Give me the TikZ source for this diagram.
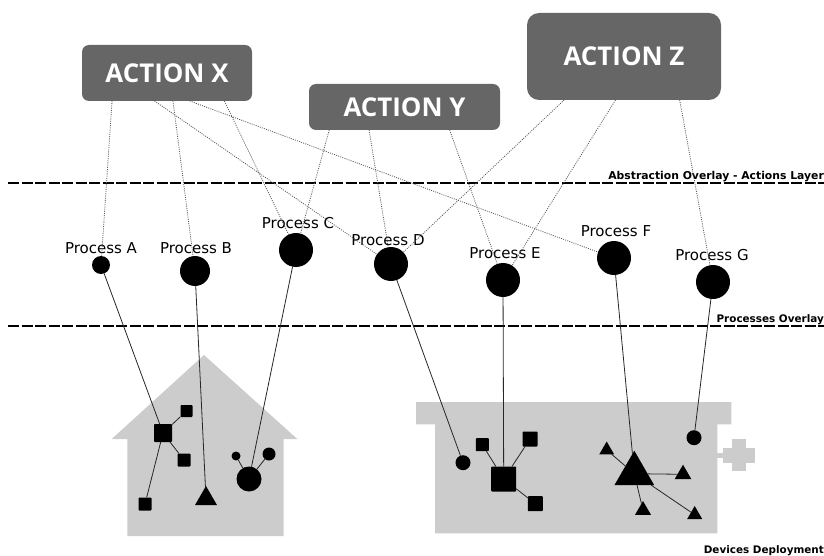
\documentclass[tikz,border=0pt]{standalone}
\usepackage{fontspec}
\setmainfont{DejaVu Sans}
\newfontfamily\actionfont{Open Sans}
\usetikzlibrary{shapes.geometric}
\definecolor{actiongray}{HTML}{666666}
\definecolor{sitegray}{HTML}{CCCCCC}
\newcommand{\actiontext}[1]{\raisebox{-1pt}{#1}}
\tikzset{
  action/.style={fill=actiongray,text=white,rounded corners=7pt,inner sep=0pt,outer sep=0pt,font=\actionfont\bfseries\fontsize{25.9}{25.9}\selectfont},
  process/.style={circle,fill=black,inner sep=0pt,outer sep=0pt},
  device/.style={rectangle,fill=black,rounded corners=0.8pt,inner sep=0pt,outer sep=0pt},
  sensor/.style={regular polygon,regular polygon sides=3,fill=black,inner sep=0pt,outer sep=0pt},
  tag/.style={font=\fontsize{15}{15}\selectfont},
  overlay/.style={font=\bfseries\fontsize{10.4}{10.4}\selectfont,anchor=base east,inner sep=0pt},
  layer/.style={line width=1.5pt,dash pattern=on 11pt off 2.5pt},
  logical/.style={dash pattern=on 1pt off 1.2pt,line width=0.8pt,black!65},
  physical/.style={line width=0.8pt,black!85},
  site/.style={fill=sitegray,draw=none}
}
\begin{document}
\begin{tikzpicture}[x=1pt,y=-1pt]
\useasboundingbox (0,0) rectangle (824,556);
% buildings
\fill [site] (204,355) -- (297.3,439) -- (283.7,439) -- (283.7,536) -- (127.3,536) -- (127.3,439) -- (111.7,439) -- cycle;
\fill [site] (416,402) -- (731.3,402) -- (731.3,424.3) -- (717.3,424.3) -- (717.3,533.3) -- (435,533.3) -- (435,424.3) -- (416,424.3) -- cycle;
\fill [site] (717.3,453) rectangle (723,457.5);
\fill [site] (731.7,439.3) rectangle (746,471);
\fill [site] (722.7,447.7) rectangle (755,462.7);
% layers
\coordinate (abs_l) at (8,183);
\coordinate (abs_r) at (824,183);
\coordinate (pro_l) at (8,326);
\coordinate (pro_r) at (824,326);
\draw [layer] (abs_l) -- (abs_r);
\draw [layer] (pro_l) -- (pro_r);
\node [overlay,font=\bfseries\fontsize{10.8}{10.8}\selectfont] (abs_t) at (824,179) {Abstraction Overlay - Actions Layer};
\node [overlay] (pro_t) at (824,322) {Processes Overlay};
\node [overlay] (dev_t) at (824,553) {Devices Deployment};
% actions
\node [action,minimum width=170pt,minimum height=56pt] (act_x) at (167,73) {\actiontext{ACTION X}};
\node [action,minimum width=191pt,minimum height=46pt] (act_y) at (404.5,107) {\actiontext{ACTION Y}};
\node [action,minimum width=194pt,minimum height=87pt,rounded corners=12pt] (act_z) at (624,56.5) {\actiontext{ACTION Z}};
% processes
\node [process,minimum size=18pt] (p_a) at (101,265) {};
\node [process,minimum size=30pt] (p_b) at (195,271) {};
\node [process,minimum size=34pt] (p_c) at (296,250) {};
\node [process,minimum size=34pt] (p_d) at (391,264) {};
\node [process,minimum size=34pt] (p_e) at (503,280) {};
\node [process,minimum size=34pt] (p_f) at (614,258) {};
\node [process,minimum size=34pt] (p_g) at (713,282) {};
\node [tag] (t_a) at (101,248) {Process A};
\node [tag] (t_b) at (196,248) {Process B};
\node [tag] (t_c) at (298,223) {Process C};
\node [tag] (t_d) at (388,240) {Process D};
\node [tag] (t_e) at (505,253) {Process E};
\node [tag] (t_f) at (616,231) {Process F};
\node [tag] (t_g) at (712,255) {Process G};
% house devices
\node [device,minimum size=18pt] (h_m) at (163,433) {};
\node [device,minimum size=12pt] (h_1) at (186.5,411) {};
\node [device,minimum size=13pt] (h_2) at (184,460) {};
\node [device,minimum size=13pt] (h_3) at (145,504) {};
\node [sensor,minimum size=25.4pt] (h_t) at (206,498.7) {};
\node [process,minimum size=25pt] (h_c) at (249,479) {};
\node [process,minimum size=9pt] (h_4) at (236,456) {};
\node [process,minimum size=13pt] (h_5) at (269,454) {};
% shed devices
\node [process,minimum size=15pt] (s_d) at (463,462.7) {};
\node [device,minimum size=25pt] (s_m) at (503.7,479) {};
\node [device,minimum size=13pt] (s_1) at (482.3,444.7) {};
\node [device,minimum size=15pt] (s_2) at (530,439) {};
\node [device,minimum size=15pt] (s_3) at (535.3,503.7) {};
\node [sensor,minimum size=46pt] (s_t) at (634.3,473.7) {};
\node [sensor,minimum size=17pt] (s_4) at (606.7,450) {};
\node [sensor,minimum size=19.2pt] (s_5) at (683,474.3) {};
\node [sensor,minimum size=18.4pt] (s_6) at (643,510.2) {};
\node [sensor,minimum size=17.4pt] (s_7) at (694.7,514.7) {};
\node [process,minimum size=15pt] (s_g) at (694,437.7) {};
% action to process
\path [logical]
(act_x.207) edge (p_a)
(act_x.282) edge (p_b)
(act_x.334) edge (p_c)
(act_x.246.8) edge (p_d)
(act_x.309.4) edge (p_f)
(act_y.197.2) edge (p_c)
(act_y.213.7) edge (p_d)
(act_y.333.2) edge (p_e)
(act_z.216.4) edge (p_d)
(act_z.259.6) edge (p_e)
(act_z.322.2) edge (p_g);
% process to device
\path [physical]
(p_a) edge (h_m)
(p_b) edge (h_t)
(p_c) edge (h_c)
(p_d) edge (s_d)
(p_e) edge (s_m)
(p_f) edge (s_t)
(p_g) edge (s_g);
% device to device
\path [physical]
(h_m) edge (h_1)
(h_m) edge (h_2)
(h_m) edge (h_3)
(h_c) edge (h_4)
(h_c) edge (h_5)
(s_m) edge (s_1)
(s_m) edge (s_2)
(s_m) edge (s_3)
(s_t) edge (s_4)
(s_t) edge (s_5)
(s_t) edge (s_6)
(s_t) edge (s_7);
\end{tikzpicture}
\end{document}
